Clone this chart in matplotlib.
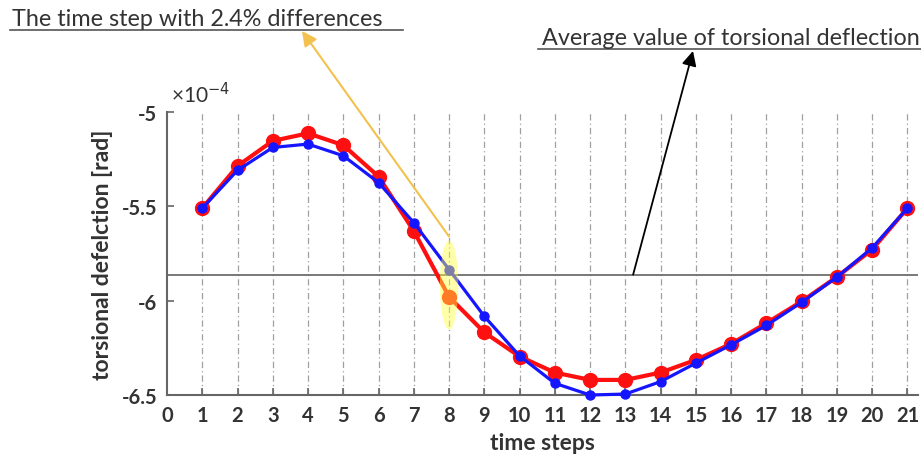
import matplotlib
matplotlib.use("Agg")
import matplotlib.pyplot as plt
from matplotlib.patches import Ellipse
from matplotlib.lines import Line2D

plt.rcParams['font.family'] = ['Lato', 'DejaVu Sans']
plt.rcParams['axes.unicode_minus'] = False

# torsional deflection per time step, in units of 1e-4 rad
steps = list(range(1, 22))
deflection_red = [-5.51, -5.286, -5.153, -5.113, -5.176, -5.342, -5.631, -5.98,
                  -6.168, -6.296, -6.381, -6.42, -6.42, -6.381, -6.314, -6.229,
                  -6.119, -6.004, -5.874, -5.729, -5.51]
deflection_blue = [-5.51, -5.309, -5.188, -5.170, -5.232, -5.374, -5.587, -5.835,
                   -6.083, -6.293, -6.438, -6.50, -6.495, -6.429, -6.331, -6.234,
                   -6.131, -6.009, -5.875, -5.72, -5.51]
average_deflection = -5.862
highlight_step = 8

xticks = list(range(0, 22))
yticks = [-6.5, -6, -5.5, -5]
ytick_labels = ['-6.5', '-6', '-5.5', '-5']

fig = plt.figure(figsize=(9.21, 4.6), dpi=100)
ax = fig.add_axes([167 / 921, 1 - 396 / 460, (918 - 167) / 921, (396 - 113) / 460])

for s in steps:
    ax.axvline(s, color='#a0a0a0', lw=0.9, dashes=(5, 2.5, 1, 2.5), zorder=1)
ax.axhline(average_deflection, color='#6e6e6e', lw=1.3, zorder=2)

ax.plot(steps, deflection_red, color='#ff1010', lw=3, marker='o', ms=10,
        zorder=3, clip_on=False)
ax.plot(steps, deflection_blue, color='#1515ff', lw=2.3, marker='o', ms=6.5,
        zorder=4, clip_on=False)

# highlight of the step with the largest difference
i = steps.index(highlight_step)
mid = (deflection_red[i] + deflection_blue[i]) / 2 - 0.01
ax.add_patch(Ellipse((highlight_step, mid), 0.52, 0.47, color='#ffff40',
                     alpha=0.45, lw=0, zorder=5))

ax.set_xlim(0, 21.3)
ax.set_ylim(-6.5, -5)
ax.set_xticks(xticks)
ax.set_yticks(yticks)
ax.set_yticklabels(ytick_labels)
ax.tick_params(direction='in', length=5, width=1.2, color='#666666',
               labelsize=14.5, labelcolor='#333333', pad=7)
for lab in ax.get_xticklabels() + ax.get_yticklabels():
    lab.set_fontweight('bold')
for side in ['top', 'right']:
    ax.spines[side].set_visible(False)
for side in ['left', 'bottom']:
    ax.spines[side].set_color('#666666')
    ax.spines[side].set_linewidth(1.5)

ax.set_xlabel('time steps', fontsize=16.5, fontweight='bold', color='#333333',
              labelpad=5)
ax.set_ylabel('torsional defelction [rad]', fontsize=16.5, fontweight='bold',
              color='#333333', labelpad=6)
ax.text(0.005, 1.02, '×10$^{-4}$', transform=ax.transAxes, fontsize=15,
        color='#333333', ha='left', va='bottom')

# callouts
fig.text(12 / 921, 1 - 26 / 460, 'The time step with 2.4% differences',
         fontsize=16.8, color='#333333', ha='left', va='baseline')
fig.add_artist(Line2D([10 / 921, 403 / 921], [1 - 31 / 460, 1 - 31 / 460],
                      color='#555555', lw=1.2))
ax.annotate('', xy=(302 / 921, 1 - 32 / 460), xycoords='figure fraction',
            xytext=(highlight_step, -5.66), textcoords='data',
            arrowprops=dict(arrowstyle='-|>', color='#f2c14e', lw=1.5,
                            mutation_scale=22, shrinkA=0, shrinkB=0),
            annotation_clip=False, zorder=6)

fig.text(542 / 921, 1 - 45 / 460, 'Average value of torsional deflection',
         fontsize=16.8, color='#333333', ha='left', va='baseline')
fig.add_artist(Line2D([538 / 921, 921 / 921], [1 - 50 / 460, 1 - 50 / 460],
                      color='#555555', lw=1.2))
ax.annotate('', xy=(693 / 921, 1 - 52 / 460), xycoords='figure fraction',
            xytext=(13.22, average_deflection), textcoords='data',
            arrowprops=dict(arrowstyle='-|>', color='black', lw=1.3,
                            mutation_scale=22, shrinkA=0, shrinkB=0),
            annotation_clip=False, zorder=6)

fig.savefig('out.png', dpi=100)
